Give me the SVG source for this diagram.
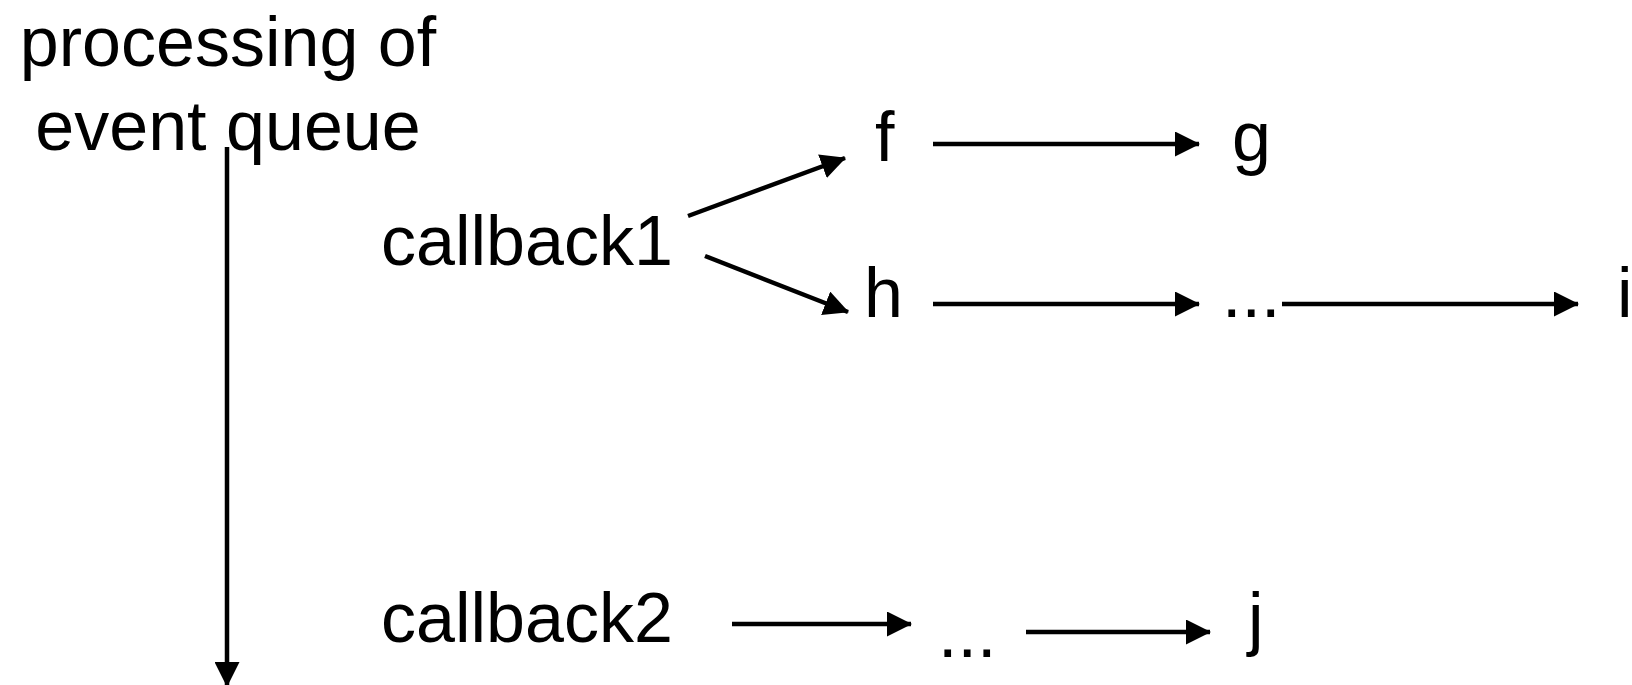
<svg xmlns="http://www.w3.org/2000/svg" width="1632" height="685" viewBox="0 0 1632 685">
<style>
text{font-family:"Liberation Sans",Arial,Helvetica,sans-serif;font-size:70px;fill:#000}
.c line{stroke:#000;stroke-width:4.5}
</style>
<defs>
<marker id="ah" markerWidth="25" markerHeight="25" refX="24" refY="12.5" orient="auto" markerUnits="userSpaceOnUse">
<path d="M0,0 L25,12.5 L0,25 Z" fill="#000"/>
</marker>
</defs>
<rect width="1632" height="685" fill="#fff"/>
<g id="queue"><text x="228" y="66" text-anchor="middle">processing of</text><text x="228" y="150" text-anchor="middle">event queue</text></g>
<g id="callback1"><text x="381" y="265">callback1</text></g>
<g id="f"><text x="875" y="161">f</text></g>
<g id="g"><text x="1232" y="161">g</text></g>
<g id="h"><text x="864" y="317">h</text></g>
<g id="dots1"><text x="1222" y="317">...</text></g>
<g id="i"><text x="1617" y="317">i</text></g>
<g id="callback2"><text x="381" y="642">callback2</text></g>
<g id="dots2"><text x="938" y="657">...</text></g>
<g id="j"><text x="1248" y="642">j</text></g>
<g class="c" id="connectors">
<line x1="227" y1="147" x2="227" y2="686" marker-end="url(#ah)"/>
<line x1="688" y1="216" x2="845" y2="158" marker-end="url(#ah)"/>
<line x1="705" y1="256" x2="848" y2="312" marker-end="url(#ah)"/>
<line x1="933" y1="144" x2="1199" y2="144" marker-end="url(#ah)"/>
<line x1="933" y1="304" x2="1199" y2="304" marker-end="url(#ah)"/>
<line x1="1282" y1="304" x2="1578" y2="304" marker-end="url(#ah)"/>
<line x1="732" y1="624" x2="911" y2="624" marker-end="url(#ah)"/>
<line x1="1026" y1="632" x2="1210" y2="632" marker-end="url(#ah)"/>
</g>
</svg>
